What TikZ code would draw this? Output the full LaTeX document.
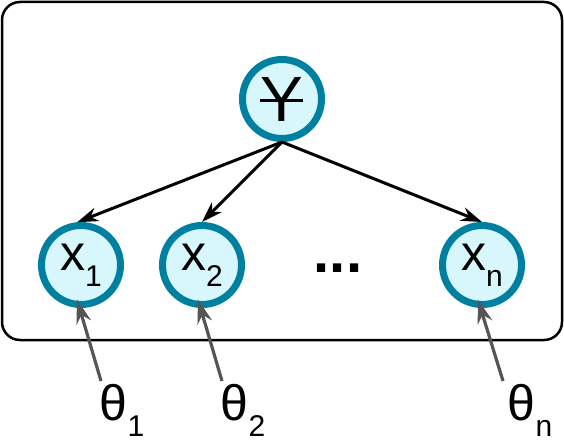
\documentclass[tikz,border=0pt]{standalone}
\usepackage{fontspec}
\setmainfont{Liberation Sans}
\usetikzlibrary{arrows.meta}
\definecolor{ring}{RGB}{0,128,160}
\definecolor{cfill}{RGB}{216,247,252}
\definecolor{garrow}{RGB}{85,85,85}
\newcommand{\mysub}[1]{\raisebox{-0.32em}{\fontsize{30}{30}\selectfont #1}}
\newcommand{\strokeY}{Y\llap{\rule[0.3em]{0.68em}{3pt}}}
\begin{document}
\begin{tikzpicture}[x=1pt,y=-1pt,
  var/.style={circle,draw=ring,fill=cfill,line width=7pt,minimum size=79pt,inner sep=0pt,font=\fontsize{50}{50}\selectfont},
  edge/.style={-{Stealth[length=21pt,width=14pt]},line width=3pt,black},
  param/.style={-{Stealth[length=24pt,width=15pt]},line width=3.2pt,garrow},
  plab/.style={font=\fontsize{50}{50}\selectfont,inner sep=0pt}]
\useasboundingbox (0,0) rectangle (564,444);
\draw[line width=2.5pt,rounded corners=18pt] (2,2) rectangle (562,340);
\node[var] (y) at (282,99) {\fontsize{64}{64}\selectfont\strokeY};
\node[var] (x1) at (81,265) {x\mysub{1}};
\node[var] (x2) at (202,265) {x\mysub{2}};
\node[var] (xn) at (482,265) {x\mysub{n}};
\node[font=\fontsize{58}{58}\selectfont\bfseries] (dots) at (338,268) {...};
\draw[edge] (y.south) -- (x1.95);
\draw[edge] (y.south) -- (x2.north);
\draw[edge] (y.south) -- (xn.north);
\node[plab] (t1) at (122,410) {θ\mysub{1}};
\node[plab] (t2) at (243,410) {θ\mysub{2}};
\node[plab] (tn) at (530,410) {θ\mysub{n}};
\coordinate (c1) at (101,381);
\coordinate (c2) at (222,381);
\coordinate (cn) at (503,381);
\draw[param,shorten >=-9pt] (c1) -- (x1.268);
\draw[param,shorten >=-9pt] (c2) -- (x2.268);
\draw[param,shorten >=-9pt] (cn) -- (xn.268);
\end{tikzpicture}
\end{document}
